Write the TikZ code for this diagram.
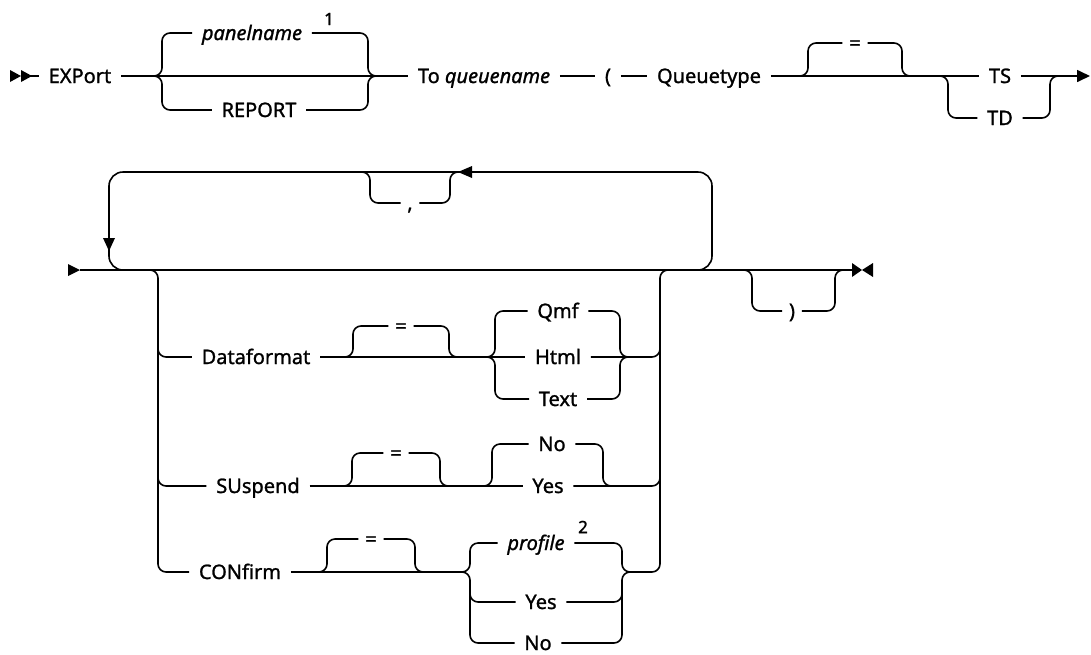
\documentclass[tikz,border=0pt]{standalone}
\usepackage{fontspec}
\setmainfont{Noto Sans}[FakeBold=1.2]
\usetikzlibrary{arrows.meta}
\begin{document}
\begin{tikzpicture}[x=1pt,y=-1pt,
  line width=1.6pt,
  kw/.style={font=\fontsize{20}{24}\selectfont, inner xsep=9pt, inner ysep=0pt,
             text height=14pt, text depth=0pt, anchor=center},
  var/.style={kw, font=\fontsize{20}{24}\selectfont\itshape},
  sym/.style={kw, inner xsep=6pt},
  note/.style={font=\fontsize{17}{19}\selectfont, inner sep=0pt},
  rc/.style={rounded corners=8pt},
  looprc/.style={rounded corners=14pt},
  tip/.style={fill=black, draw=none}
]
\fill[white] (0,0) rectangle (1091,654);
\useasboundingbox (0,0) rectangle (1091,654);

% ---------- first line: EXPort ... Queuetype ----------
\fill[tip] (10,70) -- (21,76) -- (10,82) -- cycle;
\fill[tip] (21,70) -- (32,76) -- (21,82) -- cycle;
\coordinate (start1) at (21,76);
\coordinate (end1) at (1090,76);

\node[kw]  (export) at (80,76)   {EXPort};
\node[var] (panel)  at (252,33)  {panelname};
\node[note] (n1)    at (329,19)  {1};
\node[kw]  (report) at (259,110) {REPORT};
\node[kw]  (to)     at (484,76)  {To \textit{queuename}};
\node[kw]  (lpar)   at (608,76)  {(};
\node[kw]  (qtype)  at (709,76)  {Queuetype};
\node[sym] (eq1)    at (855,43)  {=};
\node[kw]  (ts)     at (1000,76) {TS};
\node[kw]  (td)     at (1000,118){TD};

\draw (start1) -- (export.west);
\draw (export.east) -- (to.west);
\draw (to.east) -- (lpar.west);
\draw (lpar.east) -- (qtype.west);
\draw (qtype.east) -- (ts.west);
\draw[-{Triangle[length=13pt,width=12pt]}] (ts.east) -- (end1);

% panelname / REPORT choice
\draw[rc] (145,76) -- (162,76) -- (162,33) -- (panel.west);
\draw[rc] (panel.east) -- (368,33) -- (368,76) -- (385,76);
\draw[rc] (145,76) -- (162,76) -- (162,110) -- (report.west);
\draw[rc] (report.east) -- (368,110) -- (368,76) -- (385,76);

% optional =
\draw[rc] (795,76) -- (808,76) -- (808,43) -- (eq1.west);
\draw[rc] (eq1.east) -- (902,43) -- (902,76) -- (915,76);

% TS / TD
\draw[rc] (935,76) -- (948,76) -- (948,118) -- (td.west);
\draw[rc] (td.east) -- (1050,118) -- (1050,76) -- (1063,76);

% ---------- second line: repeatable options ----------
\fill[tip] (68,264) -- (80,270) -- (68,276) -- cycle;
\coordinate (start2) at (80,270);
\coordinate (end2) at (852,270);
\draw (start2) -- (end2);
\fill[tip] (852,263) -- (862,270) -- (852,277) -- cycle;
\fill[tip] (873,263) -- (862,270) -- (873,277) -- cycle;

% repeat loop with comma separator
\draw[looprc] (690,270) -- (712,270) -- (712,172) -- (109,172) -- (109,270) -- (130,270);
\node[sym] (comma) at (410,203) {,};
\draw[rc] (355,172) -- (370,172) -- (370,203) -- (comma.west);
\draw[rc] (comma.east) -- (450,203) -- (450,172) -- (465,172);
\fill[tip] (458,172) -- (472,166) -- (472,178) -- cycle;
\fill[tip] (109,251) -- (103,238) -- (115,238) -- cycle;

% option nodes
\node[kw]  (dfmt) at (256,357) {Dataformat};
\node[sym] (eq2)  at (401,326) {=};
\node[kw]  (qmf)  at (558,311) {Qmf};
\node[kw]  (html) at (558,357) {Html};
\node[kw]  (text) at (558,399) {Text};

\node[kw]  (susp) at (258,486) {SUspend};
\node[sym] (eq3)  at (396,453) {=};
\node[kw]  (sno)  at (552,444) {No};
\node[kw]  (syes) at (548,486) {Yes};

\node[kw]  (conf) at (240,572) {CONfirm};
\node[sym] (eq4)  at (371,539) {=};
\node[var] (prof) at (536,543) {profile};
\node[note] (n2)  at (583,527) {2};
\node[kw]  (cyes) at (541,602) {Yes};
\node[kw]  (cno)  at (538,643) {No};

\node[sym] (rpar) at (792,311) {)};

% left and right rails of the option group
\draw[rc] (140,270) -- (158,270) -- (158,572) -- (conf.west);
\draw[rc] (158,340) -- (158,357) -- (dfmt.west);
\draw[rc] (158,470) -- (158,486) -- (susp.west);
\draw[rc] (630,572) -- (660,572) -- (660,270) -- (678,270);

% Dataformat
\draw (dfmt.east) -- (html.west);
\draw[rc] (html.east) -- (660,357) -- (660,340);
\draw[rc] (340,357) -- (353,357) -- (353,326) -- (eq2.west);
\draw[rc] (eq2.east) -- (449,326) -- (449,357) -- (462,357);
\draw[rc] (480,357) -- (495,357) -- (495,311) -- (qmf.west);
\draw[rc] (480,357) -- (495,357) -- (495,399) -- (text.west);
\draw[rc] (qmf.east) -- (620,311) -- (620,357) -- (635,357);
\draw[rc] (text.east) -- (620,399) -- (620,357) -- (635,357);

% SUspend
\draw (susp.east) -- (syes.west);
\draw[rc] (syes.east) -- (660,486) -- (660,470);
\draw[rc] (337,486) -- (352,486) -- (352,453) -- (eq3.west);
\draw[rc] (eq3.east) -- (440,453) -- (440,486) -- (455,486);
\draw[rc] (477,486) -- (492,486) -- (492,444) -- (sno.west);
\draw[rc] (sno.east) -- (603,444) -- (603,486) -- (618,486);

% CONfirm
\draw (conf.east) -- (462,572);
\draw[rc] (312,572) -- (327,572) -- (327,539) -- (eq4.west);
\draw[rc] (eq4.east) -- (415,539) -- (415,572) -- (430,572);
\draw[rc] (455,572) -- (470,572) -- (470,543) -- (prof.west);
\draw[rc] (455,572) -- (470,572) -- (470,643) -- (cno.west);
\draw[rc] (470,585) -- (470,602) -- (cyes.west);
\draw[rc] (prof.east) -- (622,543) -- (622,572) -- (637,572);
\draw[rc] (cno.east) -- (622,643) -- (622,572) -- (637,572);
\draw[rc] (cyes.east) -- (622,602) -- (622,588);

% optional closing parenthesis
\draw[rc] (740,270) -- (752,270) -- (752,311) -- (rpar.west);
\draw[rc] (rpar.east) -- (835,311) -- (835,270) -- (848,270);
\end{tikzpicture}
\end{document}
